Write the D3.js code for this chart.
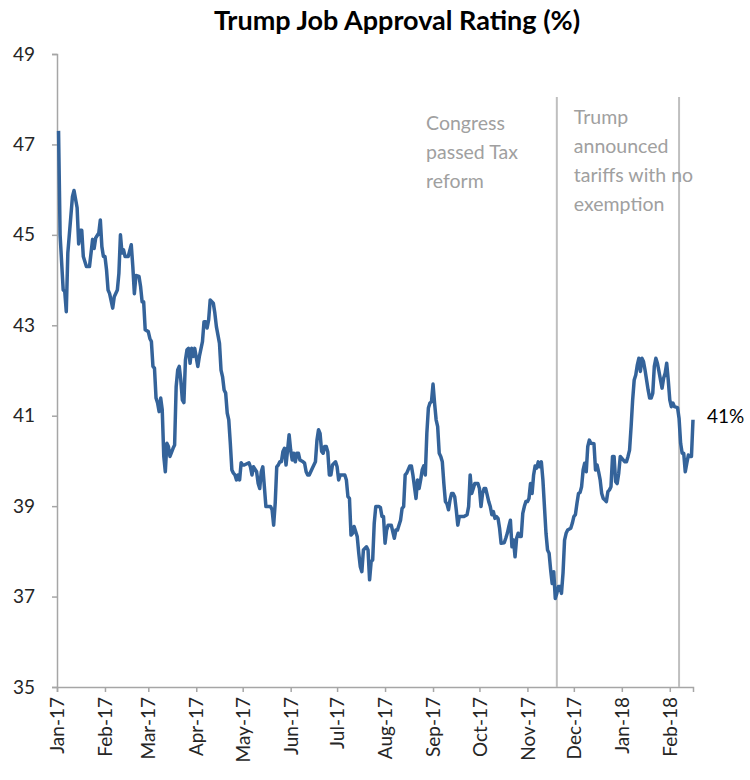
<!DOCTYPE html>
<html>
<head>
<meta charset="utf-8">
<script src="https://cdn.jsdelivr.net/npm/d3@7/dist/d3.min.js"></script>
<style>
  html, body { margin: 0; padding: 0; background: #fff; }
  svg { display: block; font-family: Lato, "Open Sans", "DejaVu Sans", sans-serif; }
</style>
</head>
<body>
<svg id="chart" width="750" height="780"></svg>
<script>
// Daily approval readings, stored as day offsets from the series start date.
const startDate = "2017-01-01";
const endDate = "2018-02-16";
const dayIndex = [
  1, 2, 4, 5, 6, 7, 10, 11, 13, 14, 15, 16, 17, 19, 21, 22, 23, 24, 25, 27,
  28, 29, 30, 31, 32, 33, 34, 36, 37, 39, 40, 41, 42, 43, 44, 46, 48, 49, 50, 51,
  53, 54, 55, 56, 57, 59, 60, 61, 62, 63, 64, 65, 66, 67, 68, 69, 70, 71, 72, 73,
  75, 76, 77, 78, 79, 80, 81, 82, 83, 84, 85, 86, 87, 88, 89, 91, 92, 94, 95, 96,
  97, 98, 99, 101, 102, 103, 105, 106, 107, 108, 109, 110, 111, 112, 113, 114, 115, 116, 117, 118,
  119, 120, 121, 124, 125, 126, 127, 129, 130, 131, 132, 133, 134, 135, 137, 138, 139, 140, 141, 142,
  143, 144, 145, 146, 147, 148, 149, 150, 151, 152, 153, 154, 155, 156, 157, 159, 160, 161, 162, 163,
  165, 166, 167, 168, 169, 170, 171, 172, 173, 174, 175, 176, 177, 178, 180, 181, 182, 183, 186, 187,
  188, 189, 190, 191, 192, 194, 195, 196, 197, 198, 200, 201, 202, 203, 204, 205, 206, 208, 209, 210,
  211, 212, 213, 214, 216, 218, 219, 220, 222, 223, 224, 225, 226, 228, 229, 230, 232, 233, 234, 235,
  236, 237, 238, 239, 240, 241, 242, 243, 244, 245, 246, 247, 248, 249, 250, 251, 252, 253, 254, 255,
  256, 257, 258, 259, 260, 262, 263, 265, 266, 267, 268, 269, 270, 272, 273, 274, 275, 276, 277, 278,
  279, 280, 281, 282, 283, 284, 285, 286, 287, 289, 290, 291, 292, 293, 294, 295, 296, 297, 298, 299,
  300, 301, 302, 303, 304, 305, 306, 307, 308, 309, 310, 311, 312, 313, 314, 315, 316, 317, 318, 319,
  320, 321, 322, 323, 324, 325, 326, 327, 328, 329, 330, 332, 333, 334, 335, 336, 337, 338, 339, 340,
  341, 342, 343, 344, 345, 347, 348, 349, 350, 351, 352, 353, 354, 355, 356, 357, 358, 359, 360, 361,
  362, 363, 364, 366, 367, 368, 369, 370, 371, 372, 373, 374, 375, 376, 377, 378, 379, 380, 381, 382,
  383, 384, 385, 386, 387, 388, 389, 390, 391, 392, 393, 394, 395, 396, 397, 398, 399, 401, 402, 403,
  404, 405, 406, 407, 408, 409, 410, 411
];
const approval = [
  47.3, 45.0, 43.78, 43.75, 43.3, 44.6, 45.85, 45.98, 45.6, 44.8, 45.1, 45.1, 44.52, 44.3, 44.3, 44.6, 44.9, 44.7, 44.93, 45.04,
  45.33, 44.74, 44.52, 44.52, 44.23, 43.78, 43.7, 43.38, 43.63, 43.78, 44.15, 45.0, 44.6, 44.67, 44.52, 44.52, 44.78, 44.3, 43.7, 44.1,
  44.08, 43.86, 43.52, 43.52, 42.9, 42.86, 42.71, 42.64, 42.09, 42.05, 41.39, 41.28, 41.09, 41.39, 41.13, 40.1, 39.76, 40.39, 40.32, 40.1,
  40.28, 40.35, 41.64, 42.01, 42.09, 41.79, 41.35, 41.29, 42.23, 42.46, 42.49, 42.16, 42.49, 42.31, 42.49, 42.09, 42.31, 42.64, 43.08, 43.08,
  42.94, 43.12, 43.56, 43.49, 43.27, 42.97, 42.6, 42.01, 41.86, 41.57, 41.5, 41.06, 40.91, 40.39, 39.8, 39.73, 39.69, 39.58, 39.69, 39.58,
  39.96, 39.91, 39.91, 39.96, 39.87, 39.69, 39.87, 39.76, 39.5, 39.39, 39.76, 39.87, 39.43, 38.99, 38.99, 38.99, 38.92, 38.58, 39.06, 39.87,
  39.91, 39.98, 39.98, 40.21, 40.28, 39.91, 40.24, 40.58, 40.24, 40.02, 40.17, 39.98, 40.17, 40.17, 40.02, 39.98, 39.95, 39.76, 39.69, 39.69,
  39.84, 39.91, 39.98, 40.46, 40.69, 40.61, 40.21, 40.17, 40.32, 40.32, 40.2, 39.69, 39.69, 39.91, 39.98, 39.87, 39.58, 39.69, 39.69, 39.58,
  39.21, 39.17, 38.36, 38.4, 38.55, 38.33, 37.96, 37.66, 37.55, 38.03, 38.1, 38.03, 37.37, 37.77, 37.81, 38.62, 38.99, 38.99, 38.97, 38.77,
  38.77, 38.18, 38.47, 38.58, 38.58, 38.29, 38.47, 38.47, 38.69, 38.95, 38.99, 39.69, 39.73, 39.89, 39.89, 39.69, 39.17, 39.58, 39.39, 39.58,
  39.8, 39.89, 39.69, 40.61, 41.17, 41.28, 41.31, 41.7, 41.28, 40.91, 40.76, 40.17, 40.1, 39.98, 39.5, 39.1, 39.05, 38.92, 39.14, 39.28,
  39.28, 39.21, 38.92, 38.58, 38.77, 38.77, 38.77, 38.81, 38.99, 39.69, 39.28, 39.39, 39.5, 39.5, 39.39, 38.99, 39.28, 39.39, 39.39, 39.25,
  39.1, 38.99, 38.81, 38.88, 38.73, 38.77, 38.73, 38.51, 38.18, 38.19, 38.29, 38.4, 38.55, 38.69, 38.1, 38.25, 37.88, 38.29, 38.4, 38.33,
  38.33, 38.84, 38.99, 39.1, 39.1, 39.17, 39.5, 39.28, 39.69, 39.89, 39.84, 39.98, 39.87, 39.98, 39.58, 38.99, 38.4, 38.03, 37.96, 37.59,
  37.29, 37.55, 36.96, 37.07, 37.22, 37.22, 37.07, 37.52, 38.25, 38.4, 38.47, 38.51, 38.62, 38.77, 38.81, 39.06, 39.28, 39.3, 39.43, 39.8,
  39.95, 39.76, 40.32, 40.46, 40.39, 40.38, 39.8, 39.91, 39.76, 39.58, 39.28, 39.17, 39.14, 39.1, 39.32, 39.36, 39.43, 40.1, 40.1, 39.54,
  39.5, 39.73, 40.1, 40.02, 39.98, 39.98, 40.1, 40.24, 40.76, 41.35, 41.79, 41.9, 42.12, 42.27, 41.98, 42.27, 42.2, 42.01, 41.79, 41.57,
  41.39, 41.39, 41.5, 42.09, 42.27, 42.16, 41.98, 41.79, 41.61, 41.83, 41.94, 42.16, 41.79, 41.35, 41.2, 41.28, 41.2, 41.18, 40.94, 40.39,
  40.17, 40.17, 39.76, 39.95, 40.13, 40.1, 40.1, 40.91
];

const yTicks = [35, 37, 39, 41, 43, 45, 47, 49];
const titleText = "Trump Job Approval Rating (%)";
const endLabel = "41%";

// Event markers: day offset and wrapped caption lines.
const eventDays = [323, 402];
const eventNotes = [
  { lines: ["Congress", "passed Tax", "reform"], anchorDay: 238.5, topLine: 130 },
  { lines: ["Trump", "announced", "tariffs with no", "exemption"], anchorDay: 334, topLine: 124 }
];

const svg = d3.select("#chart");
const margin = { left: 57, right: 57, top: 54, bottom: 93 };
const W = 750, H = 780;

const parse = d3.utcParse("%Y-%m-%d");
const t0 = parse(startDate);
const dayToDate = d => new Date(t0.getTime() + d * 86400000);

const series = dayIndex.map((d, i) => ({ date: dayToDate(d), value: approval[i] }));

const x = d3.scaleUtc()
  .domain([t0, parse(endDate)])
  .range([margin.left, W - margin.right]);
const y = d3.scaleLinear()
  .domain([35, 49])
  .range([H - margin.bottom, margin.top]);

const axisColor = "#a6a6a6";

// Title
svg.append("text")
  .attr("x", 397).attr("y", 30)
  .attr("text-anchor", "middle")
  .style("font-weight", "bold")
  .style("font-size", "27px")
  .style("fill", "#000")
  .text(titleText);

// Y axis
const yAxis = svg.append("g")
  .attr("transform", `translate(${margin.left},0)`)
  .call(d3.axisLeft(y).tickValues(yTicks).tickSize(5).tickPadding(17).tickFormat(d3.format("d")));
yAxis.selectAll("path, line").attr("stroke", axisColor).attr("stroke-width", 1.5);
yAxis.selectAll("text")
  .style("font-size", "19px")
  .style("font-family", "Lato, 'Open Sans', sans-serif")
  .attr("fill", "#262626");

// X axis with month ticks, labels rotated upright
const xAxis = svg.append("g")
  .attr("transform", `translate(0,${y(35)})`)
  .call(d3.axisBottom(x).ticks(d3.utcMonth.every(1)).tickSize(5).tickFormat(d3.utcFormat("%b-%y")));
xAxis.selectAll("path, line").attr("stroke", axisColor).attr("stroke-width", 1.5);
xAxis.selectAll("text")
  .style("font-size", "19px")
  .style("font-family", "Lato, 'Open Sans', sans-serif")
  .attr("fill", "#262626")
  .attr("transform", "rotate(-90)")
  .attr("text-anchor", "end")
  .attr("dy", "0.35em")
  .attr("x", -10)
  .attr("y", 0);

// Event marker lines
svg.selectAll("line.event")
  .data(eventDays)
  .join("line")
  .attr("class", "event")
  .attr("x1", d => x(dayToDate(d))).attr("x2", d => x(dayToDate(d)))
  .attr("y1", 97).attr("y2", y(35))
  .attr("stroke", "#bfbfbf")
  .attr("stroke-width", 2);

// Event captions
eventNotes.forEach(note => {
  const tx = svg.append("text")
    .attr("x", x(dayToDate(note.anchorDay)))
    .attr("y", note.topLine)
    .style("font-size", "19.5px")
    .style("fill", "#a0a0a0");
  note.lines.forEach((ln, i) => {
    tx.append("tspan")
      .attr("x", x(dayToDate(note.anchorDay)))
      .attr("dy", i === 0 ? 0 : 29)
      .text(ln);
  });
});

// Approval line
const line = d3.line()
  .x(d => x(d.date))
  .y(d => y(d.value));
svg.append("path")
  .datum(series)
  .attr("fill", "none")
  .attr("stroke", "#34639a")
  .attr("stroke-width", 3.5)
  .attr("stroke-linejoin", "round")
  .attr("d", line);

// End value label
const last = series[series.length - 1];
svg.append("text")
  .attr("x", x(last.date) + 14)
  .attr("y", y(41) + 7)
  .style("font-size", "19px")
  .style("fill", "#000")
  .text(endLabel);
</script>
</body>
</html>
